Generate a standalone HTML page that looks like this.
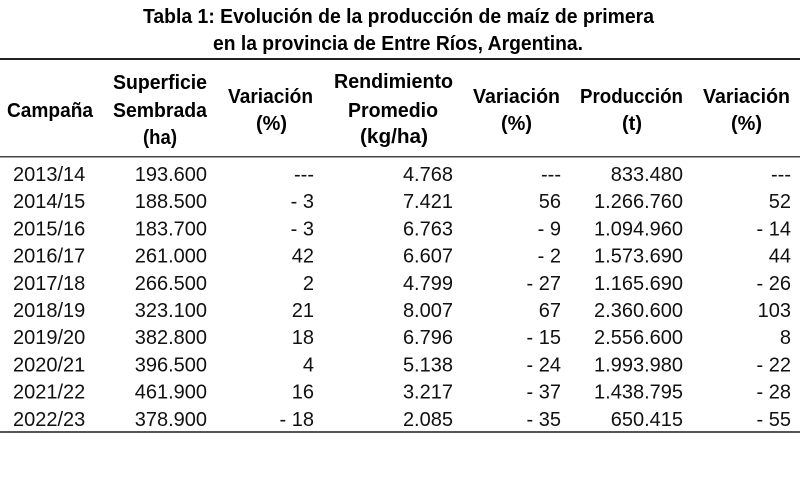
<!DOCTYPE html>
<html>
<head>
<meta charset="utf-8">
<style>
html,body{margin:0;padding:0;background:#fff;}
svg{display:block;}
text{font-family:"Liberation Sans",Arial,sans-serif;fill:#000;}
.t{font-weight:bold;font-size:20px;}
.h{font-weight:bold;font-size:20px;}
.d{font-size:20px;fill:#111;}
</style>
</head>
<body>
<svg width="800" height="485" viewBox="0 0 800 485" xmlns="http://www.w3.org/2000/svg">
<rect width="800" height="485" fill="#fff"/>
<!-- Title -->
<text class="t" x="143" y="23" textLength="511" lengthAdjust="spacingAndGlyphs">Tabla 1: Evolución de la producción de maíz de primera</text>
<text class="t" x="213" y="50" textLength="370" lengthAdjust="spacingAndGlyphs">en la provincia de Entre Ríos, Argentina.</text>
<!-- Lines -->
<rect x="0" y="58" width="800" height="2" fill="#222"/>
<rect x="0" y="156" width="800" height="1.5" fill="#444"/>
<rect x="0" y="431" width="800" height="2" fill="#555"/>
<!-- Headers -->
<text class="h" x="7" y="117" textLength="86" lengthAdjust="spacingAndGlyphs">Campaña</text>
<text class="h" x="113" y="89" textLength="94" lengthAdjust="spacingAndGlyphs">Superficie</text>
<text class="h" x="113" y="117" textLength="94" lengthAdjust="spacingAndGlyphs">Sembrada</text>
<text class="h" x="143" y="144" textLength="34" lengthAdjust="spacingAndGlyphs">(ha)</text>
<text class="h" x="228" y="103" textLength="85" lengthAdjust="spacingAndGlyphs">Variación</text>
<text class="h" x="256" y="130" textLength="31" lengthAdjust="spacingAndGlyphs">(%)</text>
<text class="h" x="334" y="88" textLength="119" lengthAdjust="spacingAndGlyphs">Rendimiento</text>
<text class="h" x="348" y="117" textLength="90" lengthAdjust="spacingAndGlyphs">Promedio</text>
<text class="h" x="360" y="143" textLength="68" lengthAdjust="spacingAndGlyphs">(kg/ha)</text>
<text class="h" x="473" y="103" textLength="87" lengthAdjust="spacingAndGlyphs">Variación</text>
<text class="h" x="501" y="130" textLength="31" lengthAdjust="spacingAndGlyphs">(%)</text>
<text class="h" x="580" y="103" textLength="103" lengthAdjust="spacingAndGlyphs">Producción</text>
<text class="h" x="622" y="130" textLength="20" lengthAdjust="spacingAndGlyphs">(t)</text>
<text class="h" x="703" y="103" textLength="87" lengthAdjust="spacingAndGlyphs">Variación</text>
<text class="h" x="731" y="130" textLength="31" lengthAdjust="spacingAndGlyphs">(%)</text>
<!-- Data -->
<g class="d">
<g transform="translate(0,181)">
<text class="d" x="13" y="0">2013/14</text>
<text class="d" x="207" y="0" text-anchor="end">193.600</text>
<text class="d" x="314" y="0" text-anchor="end">---</text>
<text class="d" x="453" y="0" text-anchor="end">4.768</text>
<text class="d" x="561" y="0" text-anchor="end">---</text>
<text class="d" x="683" y="0" text-anchor="end">833.480</text>
<text class="d" x="791" y="0" text-anchor="end">---</text>
</g>
<g transform="translate(0,208.2)">
<text class="d" x="13" y="0">2014/15</text>
<text class="d" x="207" y="0" text-anchor="end">188.500</text>
<text class="d" x="314" y="0" text-anchor="end">- 3</text>
<text class="d" x="453" y="0" text-anchor="end">7.421</text>
<text class="d" x="561" y="0" text-anchor="end">56</text>
<text class="d" x="683" y="0" text-anchor="end">1.266.760</text>
<text class="d" x="791" y="0" text-anchor="end">52</text>
</g>
<g transform="translate(0,235.4)">
<text class="d" x="13" y="0">2015/16</text>
<text class="d" x="207" y="0" text-anchor="end">183.700</text>
<text class="d" x="314" y="0" text-anchor="end">- 3</text>
<text class="d" x="453" y="0" text-anchor="end">6.763</text>
<text class="d" x="561" y="0" text-anchor="end">- 9</text>
<text class="d" x="683" y="0" text-anchor="end">1.094.960</text>
<text class="d" x="791" y="0" text-anchor="end">- 14</text>
</g>
<g transform="translate(0,262.6)">
<text class="d" x="13" y="0">2016/17</text>
<text class="d" x="207" y="0" text-anchor="end">261.000</text>
<text class="d" x="314" y="0" text-anchor="end">42</text>
<text class="d" x="453" y="0" text-anchor="end">6.607</text>
<text class="d" x="561" y="0" text-anchor="end">- 2</text>
<text class="d" x="683" y="0" text-anchor="end">1.573.690</text>
<text class="d" x="791" y="0" text-anchor="end">44</text>
</g>
<g transform="translate(0,289.8)">
<text class="d" x="13" y="0">2017/18</text>
<text class="d" x="207" y="0" text-anchor="end">266.500</text>
<text class="d" x="314" y="0" text-anchor="end">2</text>
<text class="d" x="453" y="0" text-anchor="end">4.799</text>
<text class="d" x="561" y="0" text-anchor="end">- 27</text>
<text class="d" x="683" y="0" text-anchor="end">1.165.690</text>
<text class="d" x="791" y="0" text-anchor="end">- 26</text>
</g>
<g transform="translate(0,317)">
<text class="d" x="13" y="0">2018/19</text>
<text class="d" x="207" y="0" text-anchor="end">323.100</text>
<text class="d" x="314" y="0" text-anchor="end">21</text>
<text class="d" x="453" y="0" text-anchor="end">8.007</text>
<text class="d" x="561" y="0" text-anchor="end">67</text>
<text class="d" x="683" y="0" text-anchor="end">2.360.600</text>
<text class="d" x="791" y="0" text-anchor="end">103</text>
</g>
<g transform="translate(0,344.2)">
<text class="d" x="13" y="0">2019/20</text>
<text class="d" x="207" y="0" text-anchor="end">382.800</text>
<text class="d" x="314" y="0" text-anchor="end">18</text>
<text class="d" x="453" y="0" text-anchor="end">6.796</text>
<text class="d" x="561" y="0" text-anchor="end">- 15</text>
<text class="d" x="683" y="0" text-anchor="end">2.556.600</text>
<text class="d" x="791" y="0" text-anchor="end">8</text>
</g>
<g transform="translate(0,371.4)">
<text class="d" x="13" y="0">2020/21</text>
<text class="d" x="207" y="0" text-anchor="end">396.500</text>
<text class="d" x="314" y="0" text-anchor="end">4</text>
<text class="d" x="453" y="0" text-anchor="end">5.138</text>
<text class="d" x="561" y="0" text-anchor="end">- 24</text>
<text class="d" x="683" y="0" text-anchor="end">1.993.980</text>
<text class="d" x="791" y="0" text-anchor="end">- 22</text>
</g>
<g transform="translate(0,398.6)">
<text class="d" x="13" y="0">2021/22</text>
<text class="d" x="207" y="0" text-anchor="end">461.900</text>
<text class="d" x="314" y="0" text-anchor="end">16</text>
<text class="d" x="453" y="0" text-anchor="end">3.217</text>
<text class="d" x="561" y="0" text-anchor="end">- 37</text>
<text class="d" x="683" y="0" text-anchor="end">1.438.795</text>
<text class="d" x="791" y="0" text-anchor="end">- 28</text>
</g>
<g transform="translate(0,425.8)">
<text class="d" x="13" y="0">2022/23</text>
<text class="d" x="207" y="0" text-anchor="end">378.900</text>
<text class="d" x="314" y="0" text-anchor="end">- 18</text>
<text class="d" x="453" y="0" text-anchor="end">2.085</text>
<text class="d" x="561" y="0" text-anchor="end">- 35</text>
<text class="d" x="683" y="0" text-anchor="end">650.415</text>
<text class="d" x="791" y="0" text-anchor="end">- 55</text>
</g>
</g>
</svg>
</body>
</html>
